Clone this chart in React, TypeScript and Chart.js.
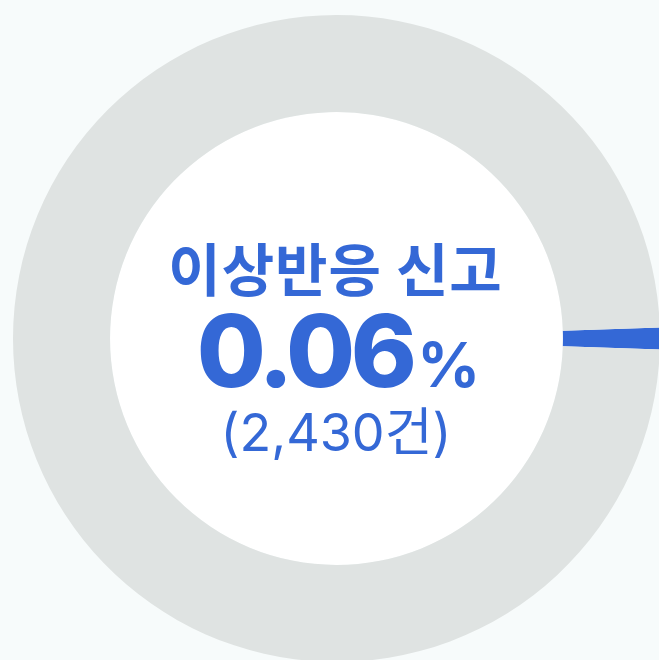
import React, { useEffect, useRef } from "react";
import { Chart, registerables } from "chart.js";

Chart.register(...registerables);

const categories = ["이상반응 신고", "기타"];
const sliceValues = [1.08, 98.92];
const sliceColors = ["#3468d6", "#dfe3e2"];
const titleText = "이상반응 신고";
const percentNumber = "0.06";
const percentSign = "%";
const countText = "(2,430건)";

const BG = "#f7fbfb";
const HOLE = "#ffffff";
const TEXT = "#3468d6";

const holePlugin = {
  id: "holeFill",
  beforeDatasetsDraw(chart: any) {
    const arc = chart.getDatasetMeta(0).data[0] as any;
    if (!arc) return;
    const { x, y, innerRadius } = arc.getProps(["x", "y", "innerRadius"], true);
    const ctx = chart.ctx;
    ctx.save();
    ctx.fillStyle = HOLE;
    ctx.beginPath();
    ctx.arc(x, y, innerRadius, 0, Math.PI * 2);
    ctx.fill();
    ctx.restore();
  },
};

export default function App() {
  const ref = useRef<HTMLCanvasElement | null>(null);

  useEffect(() => {
    document.body.style.margin = "0";
    document.body.style.background = BG;
    const total = sliceValues.reduce((a, b) => a + b, 0);
    const rotation = 90 - (sliceValues[0] / total) * 180;
    const chart = new Chart(ref.current as HTMLCanvasElement, {
      type: "doughnut",
      data: {
        labels: categories,
        datasets: [
          {
            data: sliceValues,
            backgroundColor: sliceColors,
            borderColor: "#ffffff",
            borderWidth: 0,
            hoverOffset: 0,
          },
        ],
      },
      options: {
        responsive: false,
        animation: false,
        cutout: "70%",
        rotation,
        layout: { padding: 0 },
        plugins: { legend: { display: false }, tooltip: { enabled: false } },
      },
      plugins: [holePlugin],
    });
    return () => chart.destroy();
  }, []);

  const base: React.CSSProperties = {
    position: "absolute",
    left: 0,
    textAlign: "center",
    color: TEXT,
    whiteSpace: "nowrap",
  };

  return (
    <div
      style={{
        position: "fixed",
        left: 0,
        top: 0,
        width: 659,
        height: 660,
        overflow: "hidden",
        background: BG,
      }}
    >
      <canvas
        ref={ref}
        width={647}
        height={647}
        style={{ position: "absolute", left: 13, top: 15, width: 647, height: 647 }}
      />
      <div
        style={{
          ...base,
          width: 671,
          top: 233,
          fontFamily: "'Noto Sans CJK KR'",
          fontWeight: 700,
          fontSize: 57,
          lineHeight: "66px",
          letterSpacing: 1,
        }}
      >
        {titleText}
      </div>
      <div
        style={{
          ...base,
          width: 677,
          top: 299,
          fontFamily: "Inter, 'Noto Sans CJK KR'",
          fontWeight: 800,
          fontSize: 100,
          lineHeight: "104px",
          letterSpacing: -4.5,
        }}
      >
        {percentNumber}
        <span style={{ fontSize: 62, fontWeight: 700, marginLeft: 5, letterSpacing: 0 }}>
          {percentSign}
        </span>
      </div>
      <div
        style={{
          ...base,
          width: 672,
          top: 400,
          fontFamily: "Inter, 'Noto Sans CJK KR'",
          fontWeight: 400,
          fontSize: 52,
          lineHeight: "66px",
          letterSpacing: 0,
        }}
      >
        {countText}
      </div>
    </div>
  );
}
